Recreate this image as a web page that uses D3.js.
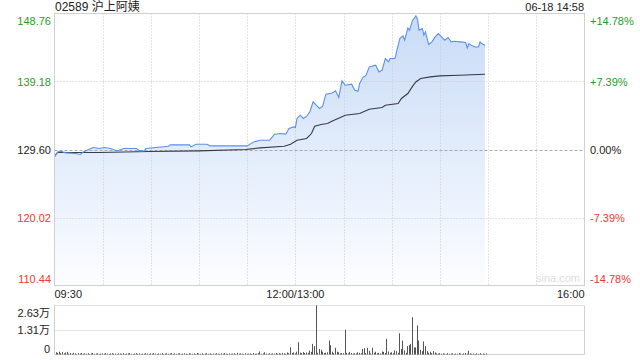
<!DOCTYPE html>
<html lang="zh">
<head>
<meta charset="UTF-8">
<title>02589 沪上阿姨</title>
<style>
  body { margin: 0; background: #fff; }
  svg text { font-family: "Liberation Sans", Arial, "Noto Sans CJK SC", sans-serif; }
</style>
</head>
<body>
<div id="chart"></div>
<script src="https://d3js.org/d3.v7.min.js"></script>
<script>
// ---- data ----
const title = "02589 沪上阿姨";
const stamp = "06-18 14:58";
const prevClose = 129.60;
const priceTicks = [148.76, 139.18, 129.60, 120.02, 110.44];
const pctTicks = ["+14.78%", "+7.39%", "0.00%", "-7.39%", "-14.78%"];
const timeLabels = ["09:30", "12:00/13:00", "16:00"];
const volTicks = [26300, 13100, 0];
const volTickLabels = ["2.63万", "1.31万", "0"];

// minutes since 09:30 (lunch break removed) and prices
const priceMinutes = [0, 2, 4, 7, 13, 16, 18, 24, 28, 31, 35, 39, 43, 51, 53, 56, 57, 71, 72, 84, 85, 88, 95, 97,
  120, 124, 128, 134, 137, 141, 144, 146, 149, 150, 151, 153, 155, 157, 159, 161, 163, 165, 167, 169, 173, 175,
  177, 179, 181, 185, 187, 189, 190, 192, 194, 196, 200, 202, 204, 206, 208, 209, 212, 213, 215, 217, 218, 220,
  221, 223, 225, 226, 227, 229, 230, 231, 232, 233, 235, 237, 239, 241, 243, 245, 247, 249, 253, 256, 257, 258,
  260, 262, 264, 265, 266, 268];
const prices = [128.56, 129.26, 129.36, 129.12, 129.04, 128.90, 129.26, 129.88, 129.74, 129.88, 129.74, 129.40,
  129.74, 129.74, 129.40, 129.40, 129.74, 130.06, 130.25, 130.25, 129.97, 130.35, 130.35, 130.11,
  130.11, 130.67, 130.91, 130.91, 131.76, 131.85, 131.76, 132.56, 132.78, 132.70, 133.97, 134.43, 133.97, 134.29,
  134.90, 136.31, 135.84, 135.38, 135.70, 137.39, 137.57, 137.86,
  136.93, 139.26, 138.66, 138.80, 137.95, 137.81, 138.90, 139.74, 140.07, 141.24, 141.48, 140.53, 140.77, 142.42,
  141.95, 142.42, 142.42, 143.35, 145.24, 145.61, 145.00, 146.73,
  146.41, 147.82, 148.42, 147.96, 146.41, 146.65, 145.70, 146.17, 145.24, 144.39, 144.76, 145.46, 145.94, 145.46,
  145.00, 145.38, 144.76, 144.86, 144.76, 144.67, 143.91, 144.53,
  144.20, 144.05, 144.05, 144.76, 144.53, 144.29];

const avgMinutes = [0, 2, 10, 28, 59, 90, 119, 128, 143, 147, 151, 157, 160, 162, 166, 170, 173, 178, 181, 190,
  196, 204, 206, 214, 216, 220, 223, 225, 228, 234, 240, 252, 268];
const avgPrices = [128.66, 129.22, 129.18, 129.18, 129.32, 129.40, 129.60, 129.83, 130.06, 130.35, 130.91, 131.15,
  131.85, 132.88, 133.12, 133.26, 133.63, 134.11, 134.43, 134.67,
  135.28, 135.52, 135.84, 136.08, 136.79, 137.49, 138.52, 139.12, 139.60, 139.83, 139.97, 140.07, 140.21];

// volume per minute, minute 0 .. 268
const volumes = [
  1200, 900, 1500, 700, 1300, 600, 1100, 1400, 500, 800, 400, 900, 600, 300, 700, 500, 800, 400, 600, 500,
  700, 300, 600, 800, 400, 500, 700, 300, 500, 600, 400, 800, 500, 300, 600, 700, 400, 500, 300, 600,
  500, 400, 700, 300, 500, 600, 800, 400, 300, 500, 700, 400, 600, 300, 500, 400, 700, 500, 300, 600,
  400, 800, 500, 300, 600, 400, 700, 300, 500, 600, 400, 500, 800, 300, 600, 400, 500, 700, 300, 500,
  600, 400, 300, 700, 500, 400, 600, 300, 800, 500, 400, 600, 300, 500, 700, 400, 600, 300, 500, 400,
  700, 500, 300, 600, 400, 800, 500, 300, 600, 400, 500, 700, 300, 900, 400, 600, 500, 300, 700, 400,
  500, 600, 300, 800, 400, 500, 700, 1600, 400, 600, 1200, 500, 300, 700, 400, 600, 500, 800, 400, 700,
  500, 900, 600, 400, 1100, 700, 3900, 800, 1200, 600, 1500, 6600, 1000, 700, 1300, 800, 1100, 900, 2100, 1400,
  5700, 4500, 26300, 900, 3000, 2500, 1500, 800, 1000, 1200, 7500, 5000, 1500, 700, 3600, 1500, 1200, 600, 800, 700,
  13300, 900, 600, 1400, 800, 500, 700, 600, 1200, 900, 700, 3000, 3400, 800, 3600, 2000, 600, 3600, 900, 1500,
  700, 900, 600, 1600, 1400, 800, 8400, 1600, 900, 1200, 700, 2200, 1800, 900, 11400, 3000, 7500, 2200, 900, 4500,
  5000, 5700, 20000, 3800, 3800, 15600, 7500, 2500, 1800, 7000, 4500, 1800, 900, 1500, 700, 1800, 1100, 600, 500, 700,
  400, 600, 500, 300, 700, 400, 500, 600, 300, 500, 400, 700, 500, 300, 600, 800, 500, 2000, 600, 400,
  500, 300, 600, 400, 700, 300, 500, 400, 600
];

// ---- layout ----
const W = 640, H = 360;
const plotLeft = 54.5, plotRight = 584.5;
const plotTop = 13.5, plotBottom = 285.5;
const vTop = 305.5, vBottom = 354.5;
const green = "#1c9f1c", red = "#ee3a2e", grid = "#c8c8c8";

const svg = d3.select("#chart").append("svg")
  .attr("width", W).attr("height", H);

const x = d3.scaleLinear().domain([0, 330]).range([plotLeft, plotRight]);
const y = d3.scaleLinear().domain([110.44, 148.76]).range([plotBottom, plotTop]);
const yv = d3.scaleLinear().domain([0, 26300]).range([vBottom, vTop]);

const defs = svg.append("defs");
const grad = defs.append("linearGradient").attr("id", "fillGrad")
  .attr("gradientUnits", "userSpaceOnUse")
  .attr("x1", 0).attr("y1", plotTop).attr("x2", 0).attr("y2", plotBottom);
grad.append("stop").attr("offset", "0%").attr("stop-color", "#c8dbf7");
grad.append("stop").attr("offset", "100%").attr("stop-color", "#fcfdff");

const pts = priceMinutes.map((m, i) => [m, prices[i]]);
const avgPts = avgMinutes.map((m, i) => [m, avgPrices[i]]);

// area under the price line
svg.append("path").datum(pts)
  .attr("fill", "url(#fillGrad)")
  .attr("d", d3.area().x(d => x(d[0])).y0(plotBottom).y1(d => y(d[1])));

// vertical grid lines every 30 minutes
const gridMinutes = d3.range(30, 330, 30);
svg.append("g").selectAll("line").data(gridMinutes).enter().append("line")
  .attr("x1", d => Math.round(x(d)) + 0.5).attr("x2", d => Math.round(x(d)) + 0.5)
  .attr("y1", plotTop).attr("y2", plotBottom)
  .attr("stroke", grid).attr("stroke-dasharray", "1,2");

// horizontal grid lines
svg.append("g").selectAll("line").data(priceTicks.slice(1, 4)).enter()
  .append("line")
  .attr("x1", plotLeft).attr("x2", plotRight)
  .attr("y1", d => Math.round(y(d)) + 0.5).attr("y2", d => Math.round(y(d)) + 0.5)
  .attr("stroke", d => d === prevClose ? "#aaaaaa" : grid)
  .attr("stroke-dasharray", d => d === prevClose ? "3,2" : "1,2");

// average and price lines
svg.append("path").datum(avgPts)
  .attr("fill", "none").attr("stroke", "#363c48").attr("stroke-width", 1.1)
  .attr("d", d3.line().x(d => x(d[0])).y(d => y(d[1])));

svg.append("path").datum(pts)
  .attr("fill", "none").attr("stroke", "#5a90ee").attr("stroke-width", 1.1)
  .attr("d", d3.line().x(d => x(d[0])).y(d => y(d[1])));

// border
svg.append("rect").attr("x", plotLeft).attr("y", plotTop)
  .attr("width", plotRight - plotLeft).attr("height", plotBottom - plotTop)
  .attr("fill", "none").attr("stroke", "#d0d0d0");

// watermark
svg.append("text").attr("x", 580).attr("y", 282).attr("text-anchor", "end")
  .attr("font-size", 11).attr("fill", "#dddddd").text("sina.com");

// left price labels
const lab = v => Math.min(Math.max(y(v), plotTop + 7), plotBottom - 7);
svg.append("g").selectAll("text").data(priceTicks).enter().append("text")
  .attr("x", 51).attr("y", d => lab(d) + 4)
  .attr("text-anchor", "end").attr("font-size", 11)
  .attr("fill", d => d > prevClose ? green : d < prevClose ? red : "#222")
  .text(d => d.toFixed(2));

// right percent labels
svg.append("g").selectAll("text").data(priceTicks).enter().append("text")
  .attr("x", 590).attr("y", d => lab(d) + 4)
  .attr("font-size", 11)
  .attr("fill", d => d > prevClose ? green : d < prevClose ? red : "#222")
  .text((d, i) => pctTicks[i]);

// title and stamp
svg.append("text").attr("x", 55).attr("y", 11).attr("font-size", 12).attr("fill", "#222").text(title);
svg.append("text").attr("x", 584).attr("y", 10.5).attr("text-anchor", "end")
  .attr("font-size", 11).attr("fill", "#222").text(stamp);

// time labels
const timeAt = [0, 150, 330];
const anchors = ["start", "middle", "end"];
svg.append("g").selectAll("text").data(timeLabels).enter().append("text")
  .attr("x", (d, i) => x(timeAt[i])).attr("y", 298)
  .attr("text-anchor", (d, i) => anchors[i])
  .attr("font-size", 11).attr("fill", "#222").text(d => d);

// ---- volume panel ----
svg.append("line").attr("x1", plotLeft).attr("x2", plotRight).attr("y1", vTop).attr("y2", vTop)
  .attr("stroke", "#c8c8c8").attr("stroke-dasharray", "1,1");
svg.append("line").attr("x1", plotLeft).attr("x2", plotRight)
  .attr("y1", Math.round(yv(13100)) + 0.5).attr("y2", Math.round(yv(13100)) + 0.5)
  .attr("stroke", "#c8c8c8").attr("stroke-dasharray", "1,1");
svg.append("line").attr("x1", plotLeft).attr("x2", plotLeft).attr("y1", vTop).attr("y2", vBottom).attr("stroke", "#d0d0d0");
svg.append("line").attr("x1", plotRight).attr("x2", plotRight).attr("y1", vTop).attr("y2", vBottom).attr("stroke", "#d0d0d0");
svg.append("line").attr("x1", plotLeft).attr("x2", plotRight).attr("y1", vBottom).attr("y2", vBottom).attr("stroke", "#d0d0d0");

svg.append("g").selectAll("rect").data(volumes).enter().append("rect")
  .attr("x", (d, i) => Math.round(x(i)) + 1)
  .attr("width", 1)
  .attr("y", d => yv(d))
  .attr("height", d => vBottom - yv(d))
  .attr("fill", "#555");

const vlab = v => Math.min(Math.max(yv(v), vTop + 7.5), vBottom - 6);
svg.append("g").selectAll("text").data(volTicks).enter().append("text")
  .attr("x", 50).attr("y", d => vlab(d) + 4)
  .attr("text-anchor", "end").attr("font-size", 11).attr("fill", "#222")
  .text((d, i) => volTickLabels[i]);
</script>
</body>
</html>
